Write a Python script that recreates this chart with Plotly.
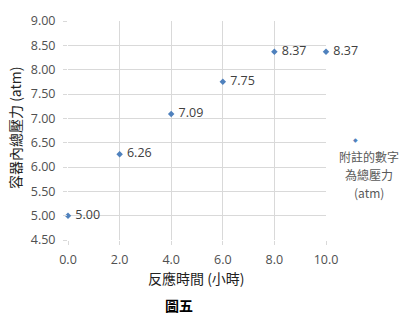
import plotly.graph_objects as go

hours = [0.0, 2.0, 4.0, 6.0, 8.0, 10.0]
pressure = [5.00, 6.26, 7.09, 7.75, 8.37, 8.37]
x_ticks = [0, 2, 4, 6, 8, 10]
x_tick_labels = ["0.0", "2.0", "4.0", "6.0", "8.0", "10.0"]
y_ticks = [4.5, 5.0, 5.5, 6.0, 6.5, 7.0, 7.5, 8.0, 8.5, 9.0]
y_tick_labels = ["4.50", "5.00", "5.50", "6.00", "6.50", "7.00", "7.50", "8.00", "8.50", "9.00"]
note_lines = ["附註的數字", "為總壓力", "(atm)"]

blue = "#4F81BD"
grid = "#D9D9D9"
tick_font = dict(family="Open Sans, Liberation Sans, sans-serif", size=12.5, color="#505050")

fig = go.Figure()
fig.add_trace(go.Scatter(
    x=hours, y=pressure, mode="markers+text",
    marker=dict(symbol="diamond", size=5, color=blue),
    text=[f" {v:.2f}" for v in pressure],
    textposition="middle right",
    textfont=dict(family="Open Sans, Liberation Sans, sans-serif", size=12.5, color="#404040"),
    cliponaxis=False, showlegend=False,
))

fig.update_layout(
    width=411, height=320,
    margin=dict(l=68, r=85, t=21, b=80),
    paper_bgcolor="white", plot_bgcolor="white",
    xaxis=dict(range=[0, 10], tickvals=x_ticks, ticktext=x_tick_labels,
               showgrid=True, gridcolor=grid, gridwidth=1, zeroline=False,
               showline=False, ticks="outside", ticklen=4, tickcolor=grid,
               tickfont=tick_font, ticklabelstandoff=4),
    yaxis=dict(range=[4.5, 9.0], tickvals=y_ticks, ticktext=y_tick_labels,
               showgrid=True, gridcolor=grid, gridwidth=1, zeroline=False,
               showline=False, ticks="outside", ticklen=4, tickcolor=grid,
               tickfont=tick_font, ticklabelstandoff=5),
)

note_font = dict(family="Noto Sans CJK TC, Liberation Sans", size=12, color="#595959")
annots = [
    dict(text="反應時間 (小時)", x=196, y=278, font=dict(family="Noto Sans CJK TC", size=14, color="#222222")),
    dict(text="<b>圖五</b>", x=179, y=305, font=dict(family="Noto Sans CJK TC", size=14, color="#000000")),
    dict(text="容器內總壓力 (atm)", x=15, y=128, textangle=-90,
         font=dict(family="Noto Sans CJK TC", size=14, color="#222222")),
    dict(text="◆", x=355, y=140, font=dict(size=6, color=blue)),
    dict(text=note_lines[0], x=369, y=156, font=note_font),
    dict(text=note_lines[1], x=369, y=174, font=note_font),
    dict(text=note_lines[2], x=369, y=192, font=note_font),
]
for a in annots:
    fig.add_annotation(xref="paper", yref="paper",
                       x=(a["x"] - 68) / (326 - 68),
                       y=(240 - a["y"]) / (240 - 21),
                       text=a["text"], showarrow=False,
                       textangle=a.get("textangle", 0), font=a["font"],
                       xanchor="center", yanchor="middle")

fig.write_html("out.html")
